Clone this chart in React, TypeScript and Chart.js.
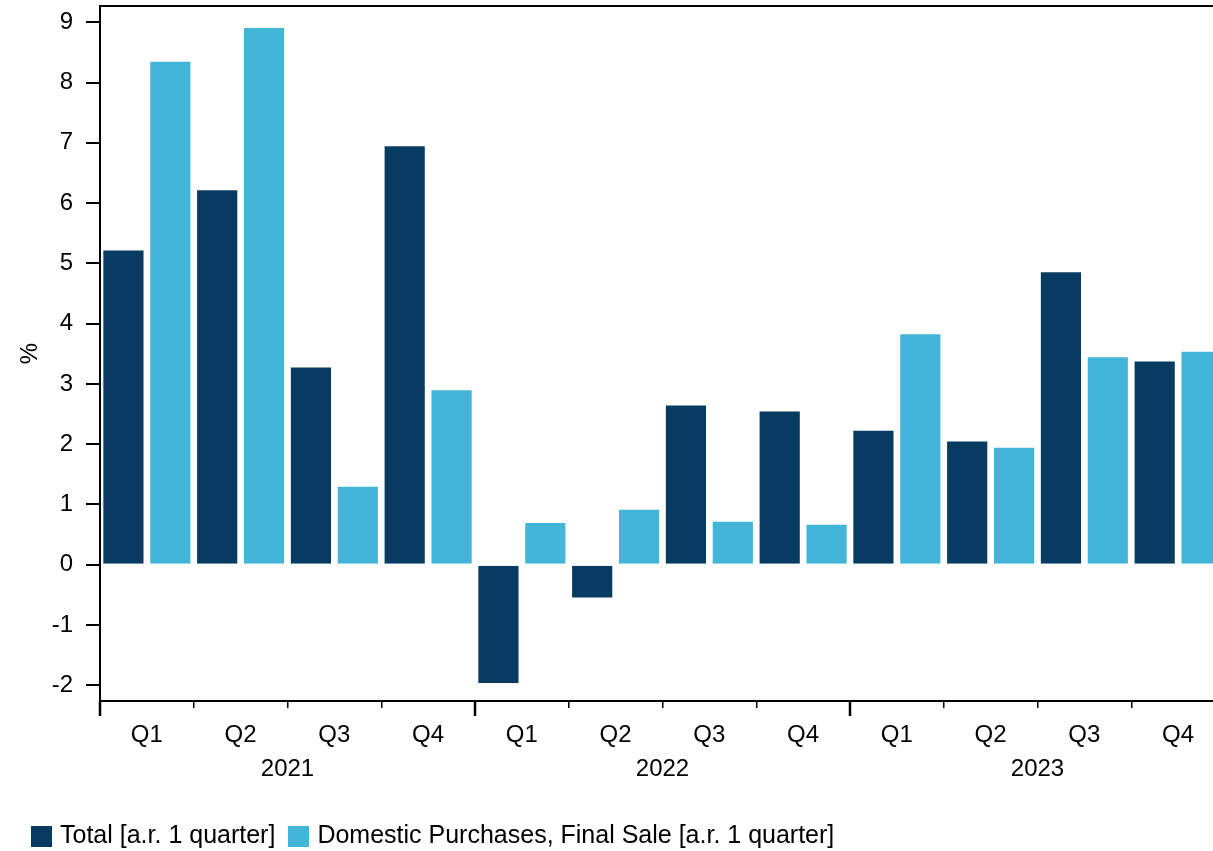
import React, { useEffect, useRef } from "react";
import { Chart, registerables } from "chart.js";

Chart.register(...registerables);

const quarters = ["Q1", "Q2", "Q3", "Q4", "Q1", "Q2", "Q3", "Q4", "Q1", "Q2", "Q3", "Q4"];
const years = ["2021", "2022", "2023"];
const totalValues = [5.23, 6.23, 3.29, 6.96, -1.98, -0.56, 2.66, 2.56, 2.24, 2.06, 4.87, 3.39];
const domesticValues = [8.36, 8.92, 1.31, 2.91, 0.71, 0.93, 0.73, 0.68, 3.84, 1.96, 3.46, 3.55];
const seriesNames = ["Total [a.r. 1 quarter]", "Domestic Purchases, Final Sale [a.r. 1 quarter]"];
const yMin = -2.26;
const yMax = 9.27;

const FONT = "'Liberation Sans', Arial, Helvetica, sans-serif";
const DARK = "#073b61";
const LIGHT = "#43b5d8";

function swatch(color: string) {
  const c = document.createElement("canvas");
  c.width = 21;
  c.height = 21;
  const g = c.getContext("2d")!;
  g.fillStyle = color;
  g.fillRect(0, 0, 21, 21);
  return c;
}

const framePlugin = {
  id: "frame",
  afterDraw(chart: any) {
    const { ctx, chartArea } = chart;
    const x = chart.scales.x;
    ctx.save();
    ctx.strokeStyle = "#000";
    ctx.lineWidth = 2;
    ctx.beginPath();
    ctx.moveTo(chartArea.left - 1, chartArea.top);
    ctx.lineTo(chartArea.right, chartArea.top);
    ctx.stroke();
    const per = quarters.length / years.length;
    const w = (x.right - x.left) / quarters.length;
    ctx.lineWidth = 2.5;
    for (let i = 0; i <= years.length; i++) {
      const px = x.left + i * per * w;
      ctx.beginPath();
      ctx.moveTo(px, x.top);
      ctx.lineTo(px, x.top + 15);
      ctx.stroke();
    }
    ctx.restore();
  },
};

export default function App() {
  const ref = useRef<HTMLCanvasElement>(null);
  useEffect(() => {
    if (!ref.current) return;
    const swatches = [swatch(DARK), swatch(LIGHT)];
    const chart = new Chart(ref.current, {
      type: "bar",
      data: {
        labels: quarters,
        datasets: [
          {
            label: seriesNames[0],
            data: totalValues,
            backgroundColor: DARK,
            borderColor: "rgba(255,255,255,0.3)",
            borderWidth: 1,
            categoryPercentage: 1,
            barPercentage: 0.9,
          },
          {
            label: seriesNames[1],
            data: domesticValues,
            backgroundColor: LIGHT,
            borderColor: "rgba(255,255,255,0.4)",
            borderWidth: 1,
            categoryPercentage: 1,
            barPercentage: 0.9,
          },
        ],
      },
      options: {
        animation: false,
        responsive: false,
        maintainAspectRatio: false,
        layout: { padding: { left: 18, top: 6, right: 0, bottom: 0 } },
        plugins: {
          tooltip: { enabled: false },
          legend: {
            position: "bottom",
            align: "start",
            labels: {
              usePointStyle: true,
              pointStyleWidth: 12,
              boxWidth: 21,
              boxHeight: 21,
              padding: 17.5,
              color: "#000",
              font: { family: FONT, size: 25 },
              generateLabels: (c: any) => {
                const items = Chart.defaults.plugins.legend.labels.generateLabels(c);
                items.forEach((it: any, i: number) => {
                  it.lineWidth = 0;
                  it.strokeStyle = "rgba(0,0,0,0)";
                  it.pointStyle = swatches[i];
                });
                return items;
              },
            },
          },
        },
        scales: {
          x: {
            type: "category",
            offset: true,
            weight: 0,
            grid: {
              display: true,
              offset: true,
              drawOnChartArea: false,
              drawTicks: true,
              tickLength: 7,
              color: "#000",
              lineWidth: 1.5,
            },
            border: { display: true, color: "#000", width: 2 },
            ticks: { color: "#000", font: { family: FONT, size: 24 }, padding: 13, maxRotation: 0, autoSkip: false },
            afterFit: (s: any) => {
              s.height = 48;
              s.paddingLeft = 0;
              s.paddingRight = 0;
            },
          },
          x2: {
            type: "category",
            labels: years,
            offset: true,
            position: "bottom",
            weight: 1,
            grid: { display: false, drawTicks: false },
            border: { display: false },
            ticks: { color: "#000", font: { family: FONT, size: 24 }, padding: 5.5, maxRotation: 0 },
            afterFit: (s: any) => {
              s.height = 57.5;
              s.paddingLeft = 0;
              s.paddingRight = 0;
            },
          },
          y: {
            type: "linear",
            min: yMin,
            max: yMax,
            ticks: {
              stepSize: 1,
              includeBounds: false,
              color: "#000",
              font: { family: FONT, size: 24 },
              padding: 13,
            },
            grid: {
              display: true,
              drawOnChartArea: false,
              drawTicks: true,
              tickLength: 14,
              color: "#000",
              lineWidth: 2,
            },
            border: { display: true, color: "#000", width: 2 },
            title: {
              display: true,
              text: "%",
              color: "#000",
              font: { family: FONT, size: 24 },
              padding: { top: -2.4, bottom: 0 },
            },
            afterFit: (s: any) => {
              s.width = 82;
              s.paddingTop = 0;
              s.paddingBottom = 0;
            },
          },
        },
      },
      plugins: [framePlugin],
    });
    return () => chart.destroy();
  }, []);

  return (
    <div
      style={{
        position: "fixed",
        left: 0,
        top: 0,
        width: 1213,
        height: 851,
        overflow: "hidden",
        background: "#fff",
      }}
    >
      <canvas ref={ref} width={1225} height={859} style={{ display: "block" }} />
    </div>
  );
}
